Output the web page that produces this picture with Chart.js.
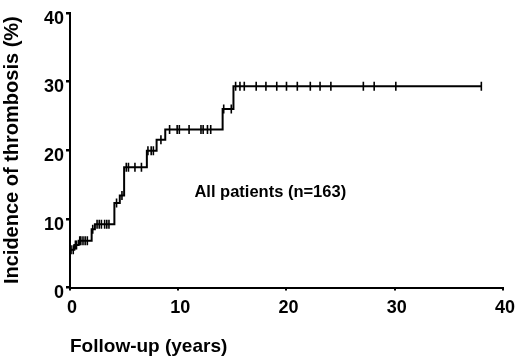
<!DOCTYPE html>
<html>
<head>
<meta charset="utf-8">
<script src="https://cdn.jsdelivr.net/npm/chart.js@4"></script>
<style>
  html, body { margin: 0; padding: 0; background: #fff; }
  #wrap { width: 520px; height: 358px; }
</style>
</head>
<body>
<div id="wrap"><canvas id="km"></canvas></div>
<script>
// step curve: time (years) and cumulative incidence (%)
const stepTimes  = [0,   0.4, 0.8, 2.0, 2.3, 4.1,  4.6,  5.0,  7.1,  8.0,  8.8,  14.1, 15.1, 38.0];
const stepValues = [5.5, 6.2, 6.8, 8.5, 9.2, 12.3, 13.4, 17.5, 19.9, 21.5, 23.0, 26.0, 29.3, 29.3];

// censored observations (tick marks)
const censorTimes  = [0.1, 0.3, 0.5, 0.6, 0.9, 1.0, 1.2, 1.4, 1.6, 2.1, 2.5, 2.7, 2.9, 3.2, 3.4, 3.6,
                      4.3, 4.8, 5.2, 5.4, 6.0, 6.6, 7.2, 7.5, 7.7, 8.4, 9.2, 9.9, 10.1, 11.0, 12.1, 12.3,
                      12.7, 13.0, 14.2, 14.9, 15.3, 15.7, 16.1, 17.2, 18.1, 19.1, 20.0, 21.0, 22.2, 23.1,
                      24.1, 27.1, 28.1, 30.1, 38.0];
const censorValues = [5.5, 5.5, 6.2, 6.2, 6.8, 6.8, 6.8, 6.8, 6.8, 8.5, 9.2, 9.2, 9.2, 9.2, 9.2, 9.2,
                      12.3, 13.4, 17.5, 17.5, 17.5, 17.5, 19.9, 19.9, 19.9, 21.5, 23.0, 23.0, 23.0, 23.0, 23.0, 23.0,
                      23.0, 23.0, 26.0, 26.0, 29.3, 29.3, 29.3, 29.3, 29.3, 29.3, 29.3, 29.3, 29.3, 29.3,
                      29.3, 29.3, 29.3, 29.3, 29.3];

const xTicks = [0, 10, 20, 30, 40];
const yTicks = [0, 10, 20, 30, 40];

const noteText = 'All patients (n=163)';
const noteAt = [18.5, 13.9];

const font = '"Liberation Sans", Arial, sans-serif';

const curve = stepTimes.map((t, i) => ({ x: t, y: stepValues[i] }));
const censored = censorTimes.map((t, i) => ({ x: t, y: censorValues[i] }));

// text inside the plot
const notePlugin = {
    id: 'note',
    afterDatasetsDraw(chart) {
        const { ctx, scales: { x, y } } = chart;
        ctx.save();
        ctx.font = 'bold 16.5px ' + font;
        ctx.fillStyle = '#000';
        ctx.textAlign = 'center';
        ctx.textBaseline = 'middle';
        ctx.fillText(noteText, x.getPixelForValue(noteAt[0]), y.getPixelForValue(noteAt[1]));
        ctx.restore();
    }
};

const ctx = document.getElementById('km').getContext('2d');

new Chart(ctx, {
    type: 'line',
    data: {
        datasets: [
            {
                data: curve,
                stepped: true,
                borderColor: '#000',
                borderWidth: 2,
                pointRadius: 0,
                fill: false
            },
            {
                type: 'scatter',
                data: censored,
                pointStyle: 'line',
                rotation: 90,
                pointRadius: 4.5,
                borderColor: '#000',
                borderWidth: 1.6,
                showLine: false
            }
        ]
    },
    options: {
        responsive: true,
        maintainAspectRatio: false,
        animation: false,
        layout: { padding: { top: 3.5, right: 17, left: 0, bottom: 0 } },
        plugins: {
            legend: { display: false },
            tooltip: { enabled: false }
        },
        scales: {
            x: {
                type: 'linear',
                min: 0,
                max: 40,
                afterBuildTicks: s => { s.ticks = xTicks.map(v => ({ value: v })); },
                afterFit: s => { s.height = 70.5; },
                border: { color: '#000', width: 2 },
                grid: { drawOnChartArea: false, drawTicks: true, tickLength: 3, color: '#000', lineWidth: 2 },
                ticks: { color: '#000', padding: 7, labelOffset: 2, font: { family: font, size: 18, weight: 'bold' } },
                title: {
                    display: true,
                    text: 'Follow-up (years)',
                    align: 'start',
                    color: '#000',
                    padding: { top: 0, bottom: 0 },
                    font: { family: font, size: 19, weight: 'bold' }
                }
            },
            y: {
                min: 0,
                max: 40,
                afterBuildTicks: s => { s.ticks = yTicks.map(v => ({ value: v })); },
                afterFit: s => { s.width = 70; },
                border: { color: '#000', width: 2 },
                grid: { drawOnChartArea: false, drawTicks: true, tickLength: 4, color: '#000', lineWidth: 2.5 },
                ticks: { color: '#000', padding: 2, labelOffset: 6, font: { family: font, size: 18, weight: 'bold' } },
                title: {
                    display: true,
                    text: 'Incidence of thrombosis (%)',
                    color: '#000',
                    padding: { top: 0, bottom: 0 },
                    font: { family: font, size: 20, weight: 'bold' }
                }
            }
        }
    },
    plugins: [notePlugin]
});
</script>
</body>
</html>
